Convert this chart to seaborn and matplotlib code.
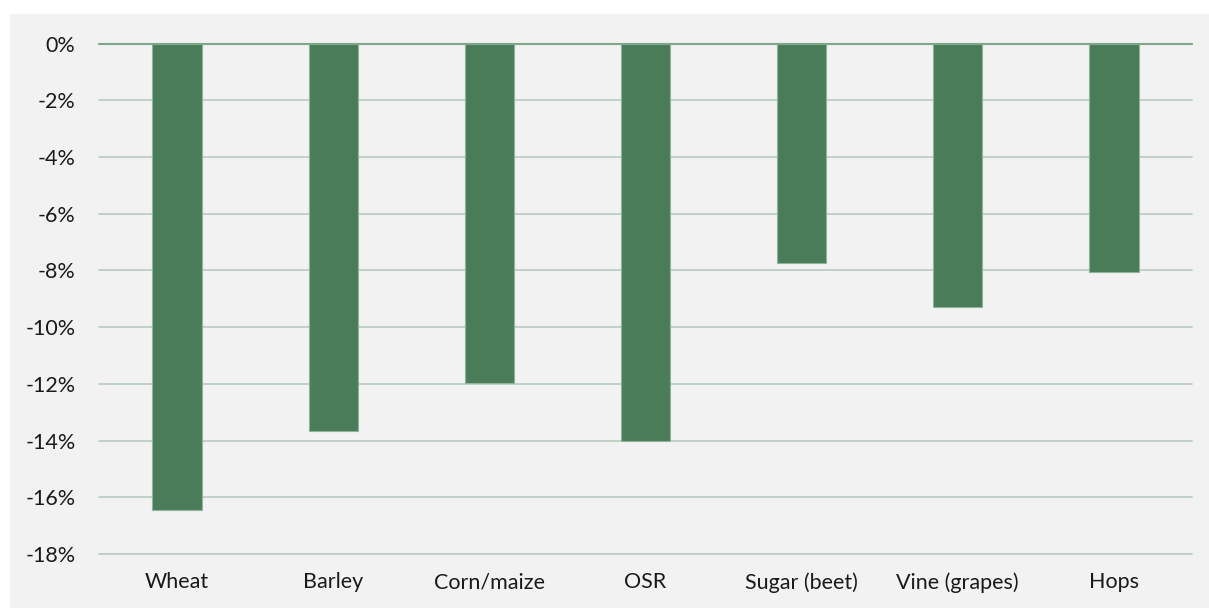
import matplotlib
matplotlib.use("Agg")
import matplotlib.pyplot as plt
import seaborn as sns
import pandas as pd
from matplotlib.patches import Rectangle
from matplotlib.ticker import FuncFormatter

# values (% change)
crops = ['Wheat', 'Barley', 'Corn/maize', 'OSR', 'Sugar (beet)', 'Vine (grapes)', 'Hops']
change = [-16.45, -13.68, -11.97, -14.03, -7.73, -9.28, -8.07]

df = pd.DataFrame({'crop': crops, 'change': change})

sns.set_theme(style='white')
plt.rcParams['font.family'] = ['Lato', 'DejaVu Sans']

bg = '#f2f2f2'
bar_col = '#4a7c59'

fig = plt.figure(figsize=(12.09, 6.08), dpi=100)
fig.patch.set_facecolor('white')
# grey chart panel behind the axes
fig.patches.append(Rectangle((10 / 1209, 0), 1 - 10 / 1209, 1 - 14 / 608,
                             transform=fig.transFigure, facecolor=bg, edgecolor='none', zorder=-5))

ax = fig.add_axes([99 / 1209, 54 / 608, (1192 - 99) / 1209, (554 - 43.5) / 608])
ax.set_facecolor(bg)

sns.barplot(data=df, x='crop', y='change', color=bar_col, saturation=1,
            width=0.315, edgecolor='#8fb39b', linewidth=0.8, ax=ax, zorder=3)

ax.set_ylim(-18, 0)
ax.set_yticks(range(-18, 1, 2))
ax.yaxis.set_major_formatter(FuncFormatter(lambda v, p: f'{int(round(v))}%'))
ax.grid(axis='y', color='#b8cbbf', linewidth=1.2, zorder=0)
for gl in ax.get_ygridlines():
    gl.set_clip_on(False)
ax.set_axisbelow(True)
ax.axhline(0, color='#7ea68b', linewidth=1.5, zorder=4, clip_on=False)

for s in ax.spines.values():
    s.set_visible(False)

ax.tick_params(axis='both', length=0, labelsize=15.5, colors='#1a1a1a')
ax.tick_params(axis='y', pad=17)
ax.tick_params(axis='x', pad=13)
ax.set_xlabel('')
ax.set_ylabel('')

fig.savefig('out.png', dpi=100, facecolor=fig.get_facecolor())
